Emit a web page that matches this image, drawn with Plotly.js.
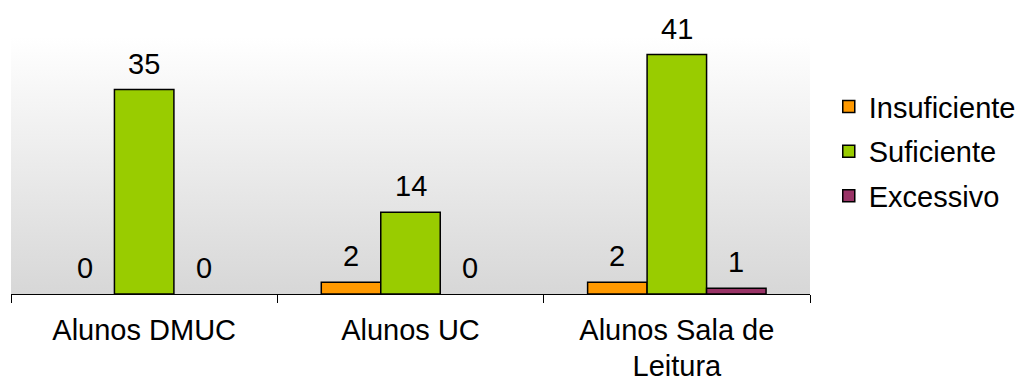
<!DOCTYPE html>
<html>
<head>
<meta charset="utf-8">
<script src="https://cdn.plot.ly/plotly-3.0.1.min.js"></script>
<style>html,body{margin:0;padding:0;background:#fff;}#chart{width:1020px;height:383px;}</style>
</head>
<body>
<div id="chart"></div>
<script>
const categories = ['Alunos DMUC', 'Alunos UC', 'Alunos Sala de<br>Leitura'];
const seriesNames = ['Insuficiente', 'Suficiente', 'Excessivo'];
const insuficiente = [0, 2, 2];
const suficiente = [35, 14, 41];
const excessivo = [0, 0, 1];
const seriesColors = ['#FF9900', '#99CC00', '#993366'];

const seriesValues = [insuficiente, suficiente, excessivo];
const BARGAP = 0.33;
const FONT = 'Liberation Sans, Arial, sans-serif';
const FS = 29;

// zero-height bars are not drawn (no flat outline on the axis); their labels stay
const traces = seriesValues.map((vals, j) => ({
  type: 'bar',
  name: seriesNames[j],
  x: categories,
  y: vals.map(v => (v === 0 ? null : v)),
  legendgroup: 'g' + j,
  marker: { color: seriesColors[j], line: { color: '#000000', width: 1.5 } },
  hoverinfo: 'none'
}));

const barW = (1 - BARGAP) / seriesValues.length;
const annotations = [];
seriesValues.forEach((vals, j) => {
  vals.forEach((v, i) => {
    annotations.push({
      xref: 'x', yref: 'y',
      x: i + (j - (seriesValues.length - 1) / 2) * barW,
      y: v,
      text: String(v),
      showarrow: false,
      xanchor: 'center', yanchor: 'bottom',
      yshift: 8,
      font: { family: FONT, size: FS, color: '#000' }
    });
  });
});

// tick labels: glyphs at FS, tighter line spacing via a smaller base tick font
const tickText = categories.map(c =>
  c.split('<br>').map(l => '<span style="font-size:' + FS + 'px">' + l + '</span>').join('<br>'));

const gradSvg = "<svg xmlns='http://www.w3.org/2000/svg' viewBox='0 0 100 100' preserveAspectRatio='none' width='100' height='100'>" +
  "<defs><linearGradient id='g' x1='0' y1='0' x2='0' y2='1'>" +
  "<stop offset='0' stop-color='#ffffff'/><stop offset='1' stop-color='#d7d7d7'/>" +
  "</linearGradient></defs><rect x='0' y='0' width='100' height='100' fill='url(#g)'/></svg>";

const layout = {
  width: 1020, height: 383,
  margin: { l: 11, r: 210, t: 37, b: 89, autoexpand: false },
  paper_bgcolor: '#ffffff',
  plot_bgcolor: 'rgba(0,0,0,0)',
  font: { family: FONT, size: FS, color: '#000' },
  barmode: 'group',
  bargap: BARGAP,
  bargroupgap: 0,
  showlegend: true,
  legend: {
    x: 1.0235, xanchor: 'left', y: 0.554, yanchor: 'middle',
    traceorder: 'grouped', tracegroupgap: 4,
    font: { family: FONT, size: FS, color: '#000' },
    bgcolor: 'rgba(0,0,0,0)'
  },
  xaxis: {
    type: 'category',
    showline: true, linecolor: '#000', linewidth: 1,
    ticks: 'outside', tickson: 'boundaries', ticklen: 8, tickcolor: '#000', tickwidth: 1,
    tickmode: 'array', tickvals: categories, ticktext: tickText,
    ticklabelstandoff: 13,
    showgrid: false, zeroline: false,
    tickfont: { family: FONT, size: 27, color: '#000' }
  },
  yaxis: { range: [0, 44], visible: false, showgrid: false, zeroline: false },
  images: [{
    source: 'data:image/svg+xml;charset=utf-8,' + encodeURIComponent(gradSvg),
    xref: 'paper', yref: 'paper', x: 0, y: 1, sizex: 1, sizey: 1,
    xanchor: 'left', yanchor: 'top', sizing: 'stretch', layer: 'below'
  }],
  annotations: annotations
};

Plotly.newPlot('chart', traces, layout, { displayModeBar: false, staticPlot: true });
</script>
</body>
</html>
